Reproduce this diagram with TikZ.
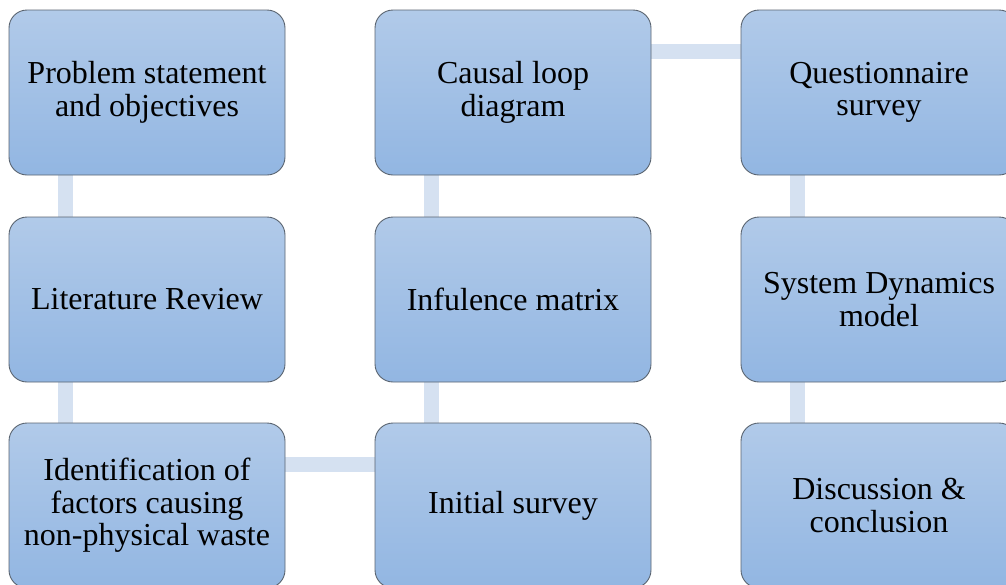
\documentclass[tikz,border=0pt]{standalone}
\usepackage{fontspec}
\setmainfont{Liberation Serif}
\usetikzlibrary{backgrounds}
\definecolor{boxtop}{HTML}{B1CAE9}
\definecolor{boxbot}{HTML}{92B6E2}
\definecolor{boxline}{HTML}{5A6470}
\definecolor{linkc}{HTML}{D5E1F1}
\begin{document}
\begin{tikzpicture}[x=1pt,y=-1pt,
  stepbox/.style={draw=boxline, line width=0.9pt, rounded corners=18pt,
    top color=boxtop, bottom color=boxbot, minimum width=276pt, minimum height=165pt,
    inner sep=0pt, align=center, font=\fontsize{32}{32.5}\selectfont},
  link/.style={draw=linkc, line width=15pt}]
\useasboundingbox (0,0) rectangle (1006,584);
\clip (0,0) rectangle (1006,584);
\node[stepbox] (a1) at (147,92.5) {Problem statement\\and objectives};
\node[stepbox] (a2) at (147,299.5) {Literature Review};
\node[stepbox] (a3) at (147,505.5) {Identification of\\factors causing\\non-physical waste};
\node[stepbox] (b3) at (513,505.5) {Initial survey};
\node[stepbox] (b2) at (513,299.5) {Infulence matrix};
\node[stepbox] (b1) at (513,92.5) {Causal loop\\diagram};
\node[stepbox] (c1) at (879,92.5) {Questionnaire\\survey};
\node[stepbox] (c2) at (879,299.5) {System Dynamics\\model};
\node[stepbox] (c3) at (879,505.5) {Discussion \&\\conclusion};
\begin{scope}[on background layer]
\draw[link] ([xshift=-82pt]a1.south) -- ([xshift=-82pt]a2.north);
\draw[link] ([xshift=-82pt]a2.south) -- ([xshift=-82pt]a3.north);
\draw[link] ([yshift=41pt]a3.east) -- ([yshift=41pt]b3.west);
\draw[link] ([xshift=-82pt]b3.north) -- ([xshift=-82pt]b2.south);
\draw[link] ([xshift=-82pt]b2.north) -- ([xshift=-82pt]b1.south);
\draw[link] ([yshift=41pt]b1.east) -- ([yshift=41pt]c1.west);
\draw[link] ([xshift=-82pt]c1.south) -- ([xshift=-82pt]c2.north);
\draw[link] ([xshift=-82pt]c2.south) -- ([xshift=-82pt]c3.north);
\end{scope}
\end{tikzpicture}
\end{document}
